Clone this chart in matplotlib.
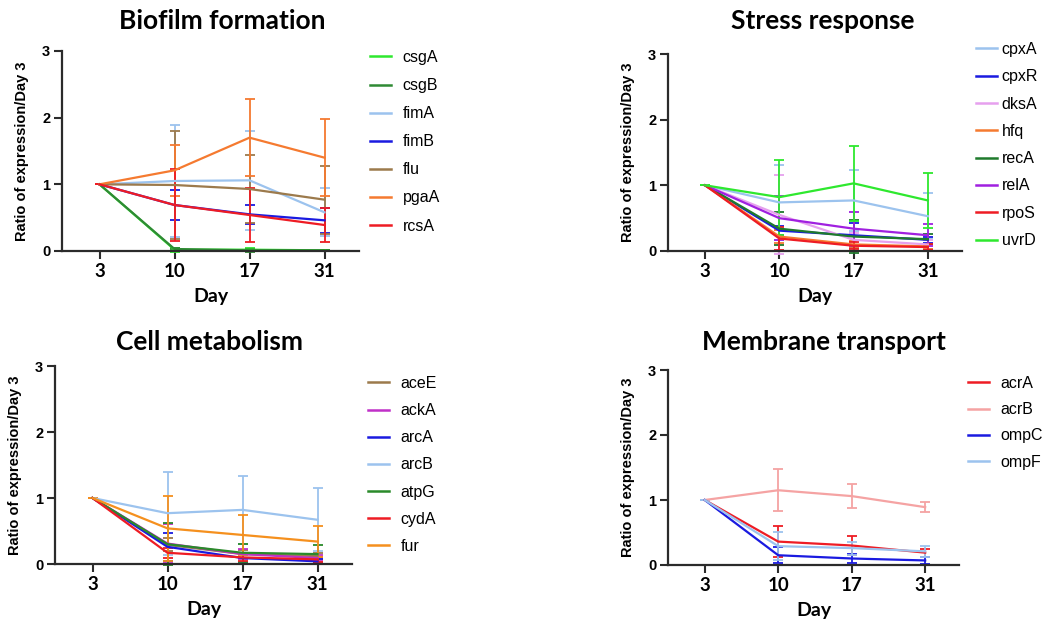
import matplotlib
matplotlib.use("Agg")
import matplotlib.pyplot as plt
from matplotlib.lines import Line2D
import numpy as np

days = ["3", "10", "17", "31"]

# ---- Biofilm formation ----
bio_genes = ["csgA", "csgB", "fimA", "fimB", "flu", "pgaA", "rcsA"]
bio_colors = ["#2ee82e", "#2f8a34", "#9cc3ee", "#1a1ae0", "#9c7a4c", "#f57a30", "#ee1c24"]
bio_vals = [
    [1, 0.02, 0.02, 0.01],
    [1, 0.03, 0.01, 0.01],
    [1, 1.05, 1.06, 0.58],
    [1, 0.69, 0.55, 0.46],
    [1, 0.99, 0.93, 0.77],
    [1, 1.21, 1.70, 1.40],
    [1, 0.69, 0.54, 0.39],
]
bio_err = [
    [0, 0.03, 0.02, 0.01],
    [0, 0.02, 0.02, 0.01],
    [0, 0.84, 0.74, 0.36],
    [0, 0.23, 0.14, 0.19],
    [0, 0.81, 0.51, 0.51],
    [0, 0.38, 0.58, 0.58],
    [0, 0.54, 0.40, 0.25],
]

# ---- Stress response ----
str_genes = ["cpxA", "cpxR", "dksA", "hfq", "recA", "relA", "rpoS", "uvrD"]
str_colors = ["#9cc3ee", "#1a1ae0", "#e6a0ee", "#f57a30", "#1f7a2c", "#a020e0", "#ee1c24", "#2ee82e"]
str_vals = [
    [1, 0.74, 0.77, 0.53],
    [1, 0.31, 0.24, 0.17],
    [1, 0.55, 0.17, 0.10],
    [1, 0.22, 0.10, 0.07],
    [1, 0.34, 0.22, 0.18],
    [1, 0.50, 0.34, 0.24],
    [1, 0.19, 0.08, 0.06],
    [1, 0.82, 1.03, 0.77],
]
str_err = [
    [0, 0.57, 0.47, 0.35],
    [0, 0.07, 0.19, 0.05],
    [0, 0.60, 0.10, 0.07],
    [0, 0.10, 0.05, 0.04],
    [0, 0.25, 0.25, 0.08],
    [0, 0.34, 0.26, 0.17],
    [0, 0.17, 0.05, 0.04],
    [0, 0.57, 0.57, 0.42],
]

# ---- Cell metabolism ----
met_genes = ["aceE", "ackA", "arcA", "arcB", "atpG", "cydA", "fur"]
met_colors = ["#9c7a4c", "#c030c8", "#1a1ae0", "#9cc3ee", "#2a8a2a", "#ee1c24", "#f5901e"]
met_vals = [
    [1, 0.29, 0.15, 0.12],
    [1, 0.31, 0.15, 0.09],
    [1, 0.26, 0.09, 0.04],
    [1, 0.77, 0.82, 0.67],
    [1, 0.30, 0.17, 0.15],
    [1, 0.17, 0.10, 0.07],
    [1, 0.54, 0.44, 0.34],
]
met_err = [
    [0, 0.10, 0.06, 0.05],
    [0, 0.29, 0.08, 0.05],
    [0, 0.21, 0.07, 0.03],
    [0, 0.63, 0.51, 0.48],
    [0, 0.32, 0.14, 0.14],
    [0, 0.08, 0.05, 0.04],
    [0, 0.49, 0.31, 0.23],
]

# ---- Membrane transport ----
mem_genes = ["acrA", "acrB", "ompC", "ompF"]
mem_colors = ["#ee1c24", "#f5a3a3", "#1a1ae0", "#9cc3ee"]
mem_vals = [
    [1, 0.36, 0.30, 0.19],
    [1, 1.15, 1.06, 0.89],
    [1, 0.15, 0.10, 0.07],
    [1, 0.29, 0.26, 0.21],
]
mem_err = [
    [0, 0.24, 0.15, 0.06],
    [0, 0.32, 0.19, 0.08],
    [0, 0.12, 0.07, 0.05],
    [0, 0.22, 0.10, 0.09],
]

W, H = 1048, 619
fig = plt.figure(figsize=(W / 100, H / 100), dpi=100)

AX = "#2b2b2b"
TITLE_FONT = ["Lato", "DejaVu Sans"]
ARIAL = ["Liberation Sans", "DejaVu Sans"]


def rect(left, top, right, bottom):
    return [left / W, 1 - bottom / H, (right - left) / W, (bottom - top) / H]


panels = [
    ("Biofilm formation", bio_genes, bio_colors, bio_vals, bio_err,
     rect(62, 51, 359, 251), (370, 50), 0.75, 0.82, 222, 21),
    ("Stress response", str_genes, str_colors, str_vals, str_err,
     rect(668, 54, 962, 251), (976, 42), 0.3, 0.77, 823, 21),
    ("Cell metabolism", met_genes, met_colors, met_vals, met_err,
     rect(55, 366, 352, 564), (368, 376), 0.75, 0.76, 210, 342),
    ("Membrane transport", mem_genes, mem_colors, mem_vals, mem_err,
     rect(668, 370, 959, 565), (968, 376), 0.75, 0.70, 824, 342),
]

x = np.arange(len(days))
for title, genes, colors, vals, errs, r, legpos, tpad, lsp, tx, ty in panels:
    ax = fig.add_axes(r)
    for g, c, v, e in zip(genes, colors, vals, errs):
        ax.errorbar(x, v, yerr=e, color=c, lw=1.6, elinewidth=1.3,
                    capsize=3.5, capthick=1.3, label=g, clip_on=False)
    ax.set_xlim(-0.5, 3.46)
    ax.set_ylim(0, 3)
    ax.set_yticks([0, 1, 2, 3])
    ax.set_xticks(x)
    ax.set_xticklabels(days, fontsize=13.5, fontweight="bold", family=TITLE_FONT)
    for lab in ax.get_yticklabels():
        lab.set_fontsize(10.5)
        lab.set_fontweight("bold")
        lab.set_family(ARIAL)
    for s in ["top", "right"]:
        ax.spines[s].set_visible(False)
    for s in ["left", "bottom"]:
        ax.spines[s].set_linewidth(1.6)
        ax.spines[s].set_color(AX)
    ax.tick_params(length=5.5, width=1.5, color=AX, pad=3)
    ax.set_ylabel("Ratio of expression/Day 3", fontsize=10.5, fontweight="bold",
                  family=ARIAL, labelpad=9)
    ax.set_xlabel("Day", fontsize=14, fontweight="bold", family=TITLE_FONT, labelpad=6)
    fig.text(tx / W, 1 - ty / H, title, fontsize=19, fontweight="bold",
             family=TITLE_FONT, ha="center", va="center")
    hs = [Line2D([], [], color=c, lw=1.8) for c in colors]
    ax.legend(hs, genes, loc="upper left",
              bbox_to_anchor=(legpos[0] / W, 1 - legpos[1] / H),
              bbox_transform=fig.transFigure, frameon=False,
              prop={"family": ARIAL, "size": 11.5}, handlelength=1.3,
              handletextpad=tpad, labelspacing=lsp, borderpad=0,
              borderaxespad=0)

fig.savefig("out.png", dpi=100)
